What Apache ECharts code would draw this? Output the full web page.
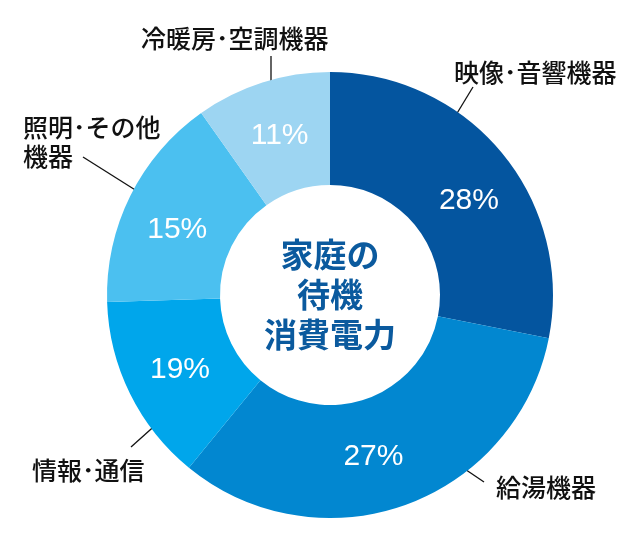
<!DOCTYPE html>
<html>
<head>
<meta charset="utf-8">
<script src="https://cdn.jsdelivr.net/npm/echarts@6/dist/echarts.min.js"></script>
<style>
html,body{margin:0;padding:0;background:#fff;}
#c{width:640px;height:539px;}
</style>
</head>
<body>
<div id="c"></div>
<script>
// Categories (clockwise from top)
var categories = ['映像･音響機器', '給湯機器', '情報･通信', '照明･その他\n機器', '冷暖房･空調機器'];
// Slice shares as drawn in the picture
var sliceShares = [28.1, 32.8, 13.6, 15.7, 9.8];
// Printed percentage labels
var pctLabels = ['28%', '27%', '19%', '15%', '11%'];
var colors = ['#04559f', '#0287d0', '#00a6eb', '#4bc0f0', '#9dd5f2'];
var centerLines = ['家庭の', '待機', '消費電力'];

// Label placement (annotation layout, not data)
var pctOffsets = [[8, 13], [-14, 2], [2, 0], [-1, 10], [1, 2]];
var nameLayout = [
  { x: 454, y: 72, line: [[445, 133], [473, 87]] },
  { x: 496, y: 487, line: [[447, 457], [484, 482]] },
  { x: 32, y: 470, line: [[169, 413], [131, 447]] },
  { x: 23, y: 142, line: [[148, 198], [83, 157]] },
  { x: 141, y: 38, line: [[271, 98], [271, 56]] }
];

var data = categories.map(function (c, i) {
  return { name: c, value: sliceShares[i], itemStyle: { color: colors[i] } };
});
var ghostData = categories.map(function (c, i) {
  return { name: c, value: sliceShares[i] };
});

var chart = echarts.init(document.getElementById('c'), null, { renderer: 'canvas' });
chart.setOption({
  backgroundColor: '#ffffff',
  animation: false,
  graphic: [{
    type: 'text',
    x: 330,
    y: 234,
    style: {
      text: centerLines.join('\n'),
      fill: '#0b5a9e',
      font: 'bold 33px "Noto Sans CJK JP"',
      lineHeight: 40,
      align: 'center',
      textAlign: 'center'
    },
    z: 10
  }],
  series: [
    {
      type: 'pie',
      center: [330, 295],
      radius: [110, 223],
      startAngle: 90,
      clockwise: true,
      silent: true,
      data: data,
      itemStyle: { borderWidth: 0 },
      label: {
        show: true,
        position: 'inside',
        formatter: function (p) { return pctLabels[p.dataIndex]; },
        color: '#ffffff',
        fontFamily: 'Liberation Sans',
        fontSize: 30,
        fontWeight: 'normal'
      },
      labelLine: { show: false },
      labelLayout: function (p) {
        var o = pctOffsets[p.dataIndex];
        return { dx: o[0], dy: o[1] };
      }
    },
    {
      type: 'pie',
      center: [330, 295],
      radius: [110, 223],
      startAngle: 90,
      clockwise: true,
      silent: true,
      data: ghostData,
      itemStyle: { color: 'rgba(0,0,0,0)', borderWidth: 0 },
      label: {
        show: true,
        position: 'outside',
        formatter: '{b}',
        color: '#111111',
        fontFamily: 'Noto Sans CJK JP',
        fontSize: 25,
        fontWeight: 500,
        lineHeight: 29,
        overflow: 'none',
        width: 300
      },
      labelLine: {
        show: true,
        length: 20,
        length2: 0,
        lineStyle: { color: '#111111', width: 1.3 }
      },
      labelLayout: function (p) {
        var l = nameLayout[p.dataIndex];
        return { x: l.x, y: l.y, align: 'left', verticalAlign: 'middle', labelLinePoints: l.line };
      }
    }
  ]
});
</script>
</body>
</html>
